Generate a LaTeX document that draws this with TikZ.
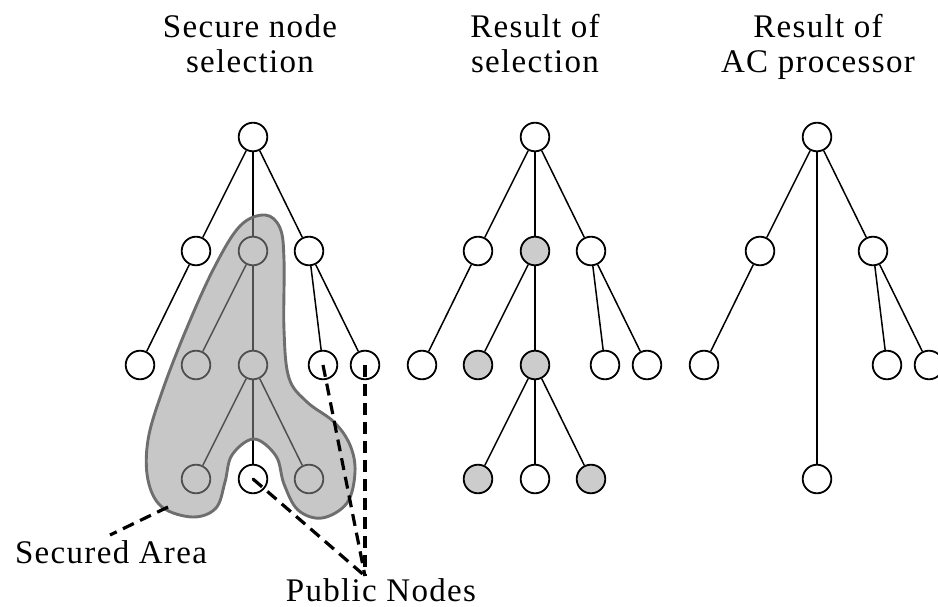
\documentclass[tikz,border=0pt]{standalone}
\usepackage{fontspec}
\setmainfont{Liberation Serif}[LetterSpace=4]
\begin{document}
\begin{tikzpicture}[x=1pt,y=-1pt,
  vtx/.style={circle, draw=black, line width=1.8pt, fill=white, minimum size=28.6pt, inner sep=0pt},
  sel/.style={vtx, fill=black!20},
  edge/.style={line width=1.5pt},
  pub/.style={line width=3.2pt, dash pattern=on 12pt off 7pt},
  lbl/.style={font=\fontsize{33}{35}\selectfont, align=center, anchor=base, inner sep=0pt},
  blob/.style={draw=black!57, line width=2.9pt, fill=black!41, fill opacity=0.53}]
\useasboundingbox (0,0) rectangle (938,607);
\clip (0,0) rectangle (938,607);
% titles (anchored at the baseline of the second line)
\node[lbl] (t1) at (250,73) {Secure node\\selection};
\node[lbl] (t2) at (535,73) {Result of\\selection};
\node[lbl] (t3) at (818,73) {Result of\\AC processor};
% tree 1
\node[vtx] (a0) at (253,137) {};
\node[vtx] (a1) at (196,251) {};
\node[vtx] (a2) at (253,251) {};
\node[vtx] (a3) at (309,251) {};
\node[vtx] (a4) at (140,365) {};
\node[vtx] (a5) at (196,365) {};
\node[vtx] (a6) at (253,365) {};
\node[vtx] (a7) at (323,365) {};
\node[vtx] (a8) at (365,365) {};
\node[vtx] (a9) at (196,479) {};
\node[vtx] (a10) at (253,479) {};
\node[vtx] (a11) at (309,479) {};
\foreach \u/\v in {a0/a1,a0/a2,a0/a3,a1/a4,a2/a5,a2/a6,a3/a7,a3/a8,a6/a9,a6/a10,a6/a11}
  \draw[edge] (\u) -- (\v);
% tree 2
\node[vtx] (b0) at (535,137) {};
\node[vtx] (b1) at (478,251) {};
\node[sel] (b2) at (535,251) {};
\node[vtx] (b3) at (591,251) {};
\node[vtx] (b4) at (422,365) {};
\node[sel] (b5) at (478,365) {};
\node[sel] (b6) at (535,365) {};
\node[vtx] (b7) at (605,365) {};
\node[vtx] (b8) at (647,365) {};
\node[sel] (b9) at (478,479) {};
\node[vtx] (b10) at (535,479) {};
\node[sel] (b11) at (591,479) {};
\foreach \u/\v in {b0/b1,b0/b2,b0/b3,b1/b4,b2/b5,b2/b6,b3/b7,b3/b8,b6/b9,b6/b10,b6/b11}
  \draw[edge] (\u) -- (\v);
% tree 3
\node[vtx] (c0) at (817,137) {};
\node[vtx] (c1) at (760,251) {};
\node[vtx] (c3) at (873,251) {};
\node[vtx] (c4) at (704,365) {};
\node[vtx] (c7) at (887,365) {};
\node[vtx] (c8) at (929,365) {};
\node[vtx] (c10) at (817,479) {};
\foreach \u/\v in {c0/c1,c0/c3,c0/c10,c1/c4,c3/c7,c3/c8}
  \draw[edge] (\u) -- (\v);
% secured area
\draw[blob] plot[smooth cycle, tension=0.6] coordinates {
  (265,215) (280,228) (284,260) (284,330) (289,378) (307,402) (334,422)
  (350,445) (355,472) (347,503) (322,518) (298,510) (284,484) (276,456)
  (254,439) (232,455) (225,482) (216,508) (193,517) (162,507) (148,480)
  (148,440) (162,392) (186,330) (214,268) (240,226)};
% labels and pointers
\fill (a10.center) circle (1.4pt);
\node[lbl] (sec) at (111,563) {Secured Area};
\node[lbl] (pubn) at (381,601) {Public Nodes};
\coordinate (sa) at (168,507);
\coordinate (saend) at (110,535);
\coordinate (pn) at (365,576);
\draw[pub] (sa) -- (saend);
\draw[pub] (a10.center) -- (pn);
\draw[pub] (a7.center) -- (pn);
\draw[pub] (a8.center) -- (pn);
\end{tikzpicture}
\end{document}
